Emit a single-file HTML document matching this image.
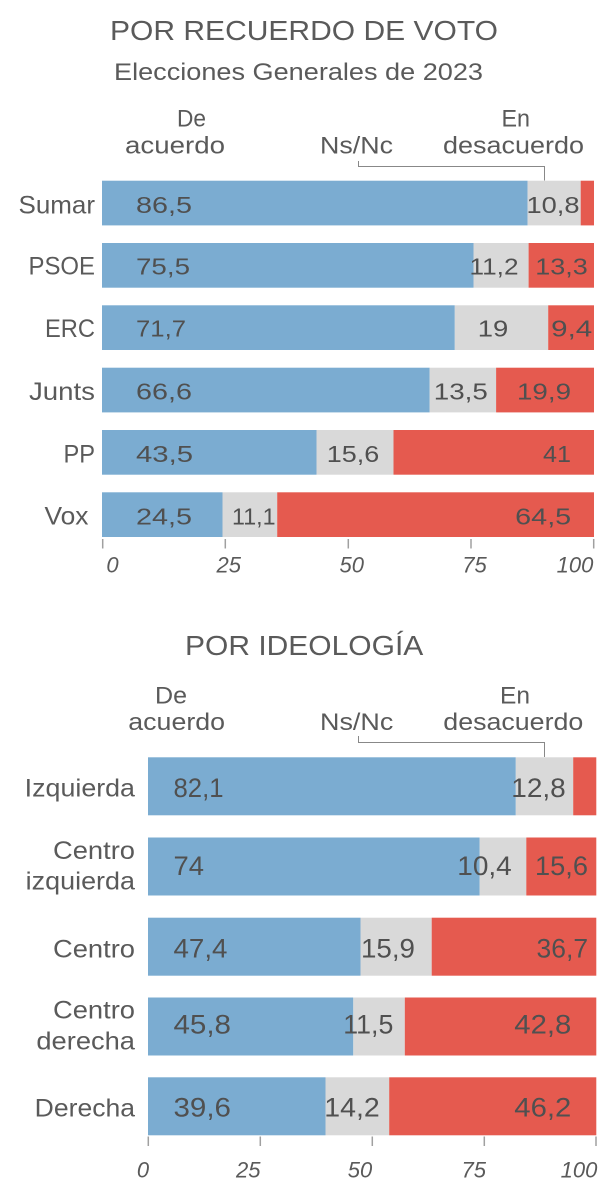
<!DOCTYPE html>
<html>
<head>
<meta charset="utf-8">
<style>
  html,body{margin:0;padding:0;background:#fff;}
  svg{display:block;}
  text{font-family:"Liberation Sans",sans-serif;fill:#5a5a5a;}
  .v{fill:#505050;}
  .t{font-style:italic;font-size:22px;text-anchor:middle;fill:#5a5a5a;}
</style>
</head>
<body>
<svg width="600" height="1192" viewBox="0 0 600 1192" xmlns="http://www.w3.org/2000/svg">
  <!-- ===== Chart 1 ===== -->
  <text x="110" y="40" font-size="28" textLength="388" lengthAdjust="spacingAndGlyphs">POR RECUERDO DE VOTO</text>
  <text x="114" y="80" font-size="24" textLength="369" lengthAdjust="spacingAndGlyphs">Elecciones Generales de 2023</text>
  <text x="177" y="126.7" font-size="24" textLength="29" lengthAdjust="spacingAndGlyphs">De</text>
  <text x="125" y="153.3" font-size="24" textLength="100" lengthAdjust="spacingAndGlyphs">acuerdo</text>
  <text x="320" y="153.3" font-size="24" textLength="73" lengthAdjust="spacingAndGlyphs">Ns/Nc</text>
  <text x="501.5" y="126.7" font-size="24" textLength="28.5" lengthAdjust="spacingAndGlyphs">En</text>
  <text x="443" y="153.3" font-size="24" textLength="141" lengthAdjust="spacingAndGlyphs">desacuerdo</text>
  <path d="M358.5 161 V166.5 H544.5 V180.5" fill="none" stroke="#888" stroke-width="1"/>

  <g>
    <!-- Sumar -->
    <rect x="102" y="180.7" width="425.6" height="44.7" fill="#7BACD1"/>
    <rect x="527.6" y="180.7" width="53.1" height="44.7" fill="#D9D9D9"/>
    <rect x="580.7" y="180.7" width="13.3" height="44.7" fill="#E55A4F"/>
    <!-- PSOE -->
    <rect x="102" y="243" width="371.5" height="44.7" fill="#7BACD1"/>
    <rect x="473.5" y="243" width="55.1" height="44.7" fill="#D9D9D9"/>
    <rect x="528.6" y="243" width="65.4" height="44.7" fill="#E55A4F"/>
    <!-- ERC -->
    <rect x="102" y="305.3" width="352.8" height="44.7" fill="#7BACD1"/>
    <rect x="454.8" y="305.3" width="93.4" height="44.7" fill="#D9D9D9"/>
    <rect x="548.2" y="305.3" width="45.8" height="44.7" fill="#E55A4F"/>
    <!-- Junts -->
    <rect x="102" y="367.7" width="327.7" height="44.7" fill="#7BACD1"/>
    <rect x="429.7" y="367.7" width="66.4" height="44.7" fill="#D9D9D9"/>
    <rect x="496.1" y="367.7" width="97.9" height="44.7" fill="#E55A4F"/>
    <!-- PP -->
    <rect x="102" y="430" width="214.5" height="44.7" fill="#7BACD1"/>
    <rect x="316.5" y="430" width="77" height="44.7" fill="#D9D9D9"/>
    <rect x="393.5" y="430" width="200.5" height="44.7" fill="#E55A4F"/>
    <!-- Vox -->
    <rect x="102" y="492.3" width="120.5" height="44.7" fill="#7BACD1"/>
    <rect x="222.5" y="492.3" width="54.7" height="44.7" fill="#D9D9D9"/>
    <rect x="277.2" y="492.3" width="316.8" height="44.7" fill="#E55A4F"/>
  </g>

  <g font-size="25" text-anchor="end">
    <text x="95" y="213.3" textLength="76.5" lengthAdjust="spacingAndGlyphs">Sumar</text>
    <text x="95" y="274.5" textLength="66.5" lengthAdjust="spacingAndGlyphs">PSOE</text>
    <text x="95" y="336.8" textLength="50" lengthAdjust="spacingAndGlyphs">ERC</text>
    <text x="95" y="399.8" textLength="66" lengthAdjust="spacingAndGlyphs">Junts</text>
    <text x="95" y="462.5" textLength="31.5" lengthAdjust="spacingAndGlyphs">PP</text>
    <text x="88.5" y="524.3" textLength="44" lengthAdjust="spacingAndGlyphs">Vox</text>
  </g>

  <g font-size="23">
    <text class="v" x="136" y="213" textLength="56" lengthAdjust="spacingAndGlyphs">86,5</text>
    <text class="v" x="553" y="213" text-anchor="middle" textLength="53" lengthAdjust="spacingAndGlyphs">10,8</text>

    <text class="v" x="136" y="274.3" textLength="54" lengthAdjust="spacingAndGlyphs">75,5</text>
    <text class="v" x="494" y="274.3" text-anchor="middle" textLength="49" lengthAdjust="spacingAndGlyphs">11,2</text>
    <text class="v" x="561.5" y="274.3" text-anchor="middle" textLength="52.5" lengthAdjust="spacingAndGlyphs">13,3</text>

    <text class="v" x="136" y="336.7" textLength="50" lengthAdjust="spacingAndGlyphs">71,7</text>
    <text class="v" x="493" y="336.7" text-anchor="middle" textLength="30.5" lengthAdjust="spacingAndGlyphs">19</text>
    <text class="v" x="571.7" y="336.7" text-anchor="middle" textLength="41" lengthAdjust="spacingAndGlyphs">9,4</text>

    <text class="v" x="136" y="399.5" textLength="56" lengthAdjust="spacingAndGlyphs">66,6</text>
    <text class="v" x="460.8" y="399.5" text-anchor="middle" textLength="54" lengthAdjust="spacingAndGlyphs">13,5</text>
    <text class="v" x="544" y="399.5" text-anchor="middle" textLength="54" lengthAdjust="spacingAndGlyphs">19,9</text>

    <text class="v" x="136" y="462" textLength="57" lengthAdjust="spacingAndGlyphs">43,5</text>
    <text class="v" x="353" y="462" text-anchor="middle" textLength="52.5" lengthAdjust="spacingAndGlyphs">15,6</text>
    <text class="v" x="557" y="462" text-anchor="middle" textLength="28" lengthAdjust="spacingAndGlyphs">41</text>

    <text class="v" x="136" y="524.3" textLength="56" lengthAdjust="spacingAndGlyphs">24,5</text>
    <text class="v" x="253.8" y="524.3" text-anchor="middle" textLength="43.5" lengthAdjust="spacingAndGlyphs">11,1</text>
    <text class="v" x="543.2" y="524.3" text-anchor="middle" textLength="56" lengthAdjust="spacingAndGlyphs">64,5</text>
  </g>

  <g stroke="#a0a0a0" stroke-width="1.5">
    <line x1="102.7" y1="539" x2="102.7" y2="548.5"/>
    <line x1="225.3" y1="539" x2="225.3" y2="548.5"/>
    <line x1="348.3" y1="539" x2="348.3" y2="548.5"/>
    <line x1="471" y1="539" x2="471" y2="548.5"/>
    <line x1="593.7" y1="539" x2="593.7" y2="548.5"/>
  </g>
  <text class="t" x="112.5" y="572.3">0</text>
  <text class="t" x="228.7" y="572.3">25</text>
  <text class="t" x="351.7" y="572.3">50</text>
  <text class="t" x="474.5" y="572.3">75</text>
  <text class="t" x="575" y="572.3">100</text>

  <!-- ===== Chart 2 ===== -->
  <text x="185" y="655" font-size="28" textLength="238.3" lengthAdjust="spacingAndGlyphs">POR IDEOLOGÍA</text>
  <text x="155" y="703.3" font-size="24" textLength="32" lengthAdjust="spacingAndGlyphs">De</text>
  <text x="128.3" y="730" font-size="24" textLength="96.7" lengthAdjust="spacingAndGlyphs">acuerdo</text>
  <text x="320" y="730" font-size="24" textLength="73.3" lengthAdjust="spacingAndGlyphs">Ns/Nc</text>
  <text x="500" y="703.3" font-size="24" textLength="30" lengthAdjust="spacingAndGlyphs">En</text>
  <text x="443.3" y="730" font-size="24" textLength="140" lengthAdjust="spacingAndGlyphs">desacuerdo</text>
  <path d="M358.5 736 V742.5 H544.5 V757" fill="none" stroke="#888" stroke-width="1"/>

  <g>
    <!-- Izquierda -->
    <rect x="148" y="757.3" width="367.8" height="58" fill="#7BACD1"/>
    <rect x="515.8" y="757.3" width="57.4" height="58" fill="#D9D9D9"/>
    <rect x="573.2" y="757.3" width="23.1" height="58" fill="#E55A4F"/>
    <!-- Centro izquierda -->
    <rect x="148" y="837.5" width="331.7" height="58" fill="#7BACD1"/>
    <rect x="479.7" y="837.5" width="46.6" height="58" fill="#D9D9D9"/>
    <rect x="526.3" y="837.5" width="70" height="58" fill="#E55A4F"/>
    <!-- Centro -->
    <rect x="148" y="917.7" width="212.5" height="58" fill="#7BACD1"/>
    <rect x="360.5" y="917.7" width="71.2" height="58" fill="#D9D9D9"/>
    <rect x="431.7" y="917.7" width="164.6" height="58" fill="#E55A4F"/>
    <!-- Centro derecha -->
    <rect x="148" y="997.5" width="205.3" height="58" fill="#7BACD1"/>
    <rect x="353.3" y="997.5" width="51.5" height="58" fill="#D9D9D9"/>
    <rect x="404.8" y="997.5" width="191.5" height="58" fill="#E55A4F"/>
    <!-- Derecha -->
    <rect x="148" y="1077.3" width="177.5" height="58" fill="#7BACD1"/>
    <rect x="325.5" y="1077.3" width="63.7" height="58" fill="#D9D9D9"/>
    <rect x="389.2" y="1077.3" width="207.1" height="58" fill="#E55A4F"/>
  </g>

  <g font-size="25" text-anchor="end">
    <text x="135" y="796.7" textLength="110.3" lengthAdjust="spacingAndGlyphs">Izquierda</text>
    <text x="135" y="859" textLength="82" lengthAdjust="spacingAndGlyphs">Centro</text>
    <text x="135" y="889.3" textLength="109.3" lengthAdjust="spacingAndGlyphs">izquierda</text>
    <text x="135" y="957.3" textLength="82" lengthAdjust="spacingAndGlyphs">Centro</text>
    <text x="135" y="1018.3" textLength="82" lengthAdjust="spacingAndGlyphs">Centro</text>
    <text x="135" y="1049.3" textLength="98.6" lengthAdjust="spacingAndGlyphs">derecha</text>
    <text x="135" y="1116.7" textLength="100.3" lengthAdjust="spacingAndGlyphs">Derecha</text>
  </g>

  <g font-size="27">
    <text class="v" x="173.5" y="797" textLength="50" lengthAdjust="spacingAndGlyphs">82,1</text>
    <text class="v" x="538.5" y="797" text-anchor="middle" textLength="54.5" lengthAdjust="spacingAndGlyphs">12,8</text>

    <text class="v" x="173.5" y="875" textLength="30.5" lengthAdjust="spacingAndGlyphs">74</text>
    <text class="v" x="484.5" y="875" text-anchor="middle" textLength="54.5" lengthAdjust="spacingAndGlyphs">10,4</text>
    <text class="v" x="561.5" y="875" text-anchor="middle" textLength="53" lengthAdjust="spacingAndGlyphs">15,6</text>

    <text class="v" x="173.5" y="957.3" textLength="54" lengthAdjust="spacingAndGlyphs">47,4</text>
    <text class="v" x="388" y="957.3" text-anchor="middle" textLength="54" lengthAdjust="spacingAndGlyphs">15,9</text>
    <text class="v" x="562.3" y="957.3" text-anchor="middle" textLength="51.5" lengthAdjust="spacingAndGlyphs">36,7</text>

    <text class="v" x="173.5" y="1033.3" textLength="57.5" lengthAdjust="spacingAndGlyphs">45,8</text>
    <text class="v" x="368.3" y="1033.3" text-anchor="middle" textLength="50" lengthAdjust="spacingAndGlyphs">11,5</text>
    <text class="v" x="542.8" y="1033.3" text-anchor="middle" textLength="57" lengthAdjust="spacingAndGlyphs">42,8</text>

    <text class="v" x="173.5" y="1116.7" textLength="57.5" lengthAdjust="spacingAndGlyphs">39,6</text>
    <text class="v" x="352" y="1116.7" text-anchor="middle" textLength="55.5" lengthAdjust="spacingAndGlyphs">14,2</text>
    <text class="v" x="542.8" y="1116.7" text-anchor="middle" textLength="57" lengthAdjust="spacingAndGlyphs">46,2</text>
  </g>

  <g stroke="#a0a0a0" stroke-width="1.5">
    <line x1="148.3" y1="1136.5" x2="148.3" y2="1146"/>
    <line x1="260.3" y1="1136.5" x2="260.3" y2="1146"/>
    <line x1="372.3" y1="1136.5" x2="372.3" y2="1146"/>
    <line x1="484.3" y1="1136.5" x2="484.3" y2="1146"/>
    <line x1="596" y1="1136.5" x2="596" y2="1146"/>
  </g>
  <text class="t" x="143" y="1177.3">0</text>
  <text class="t" x="248.3" y="1177.3">25</text>
  <text class="t" x="360" y="1177.3">50</text>
  <text class="t" x="473.8" y="1177.3">75</text>
  <text class="t" x="579" y="1177.3">100</text>
</svg>
</body>
</html>
